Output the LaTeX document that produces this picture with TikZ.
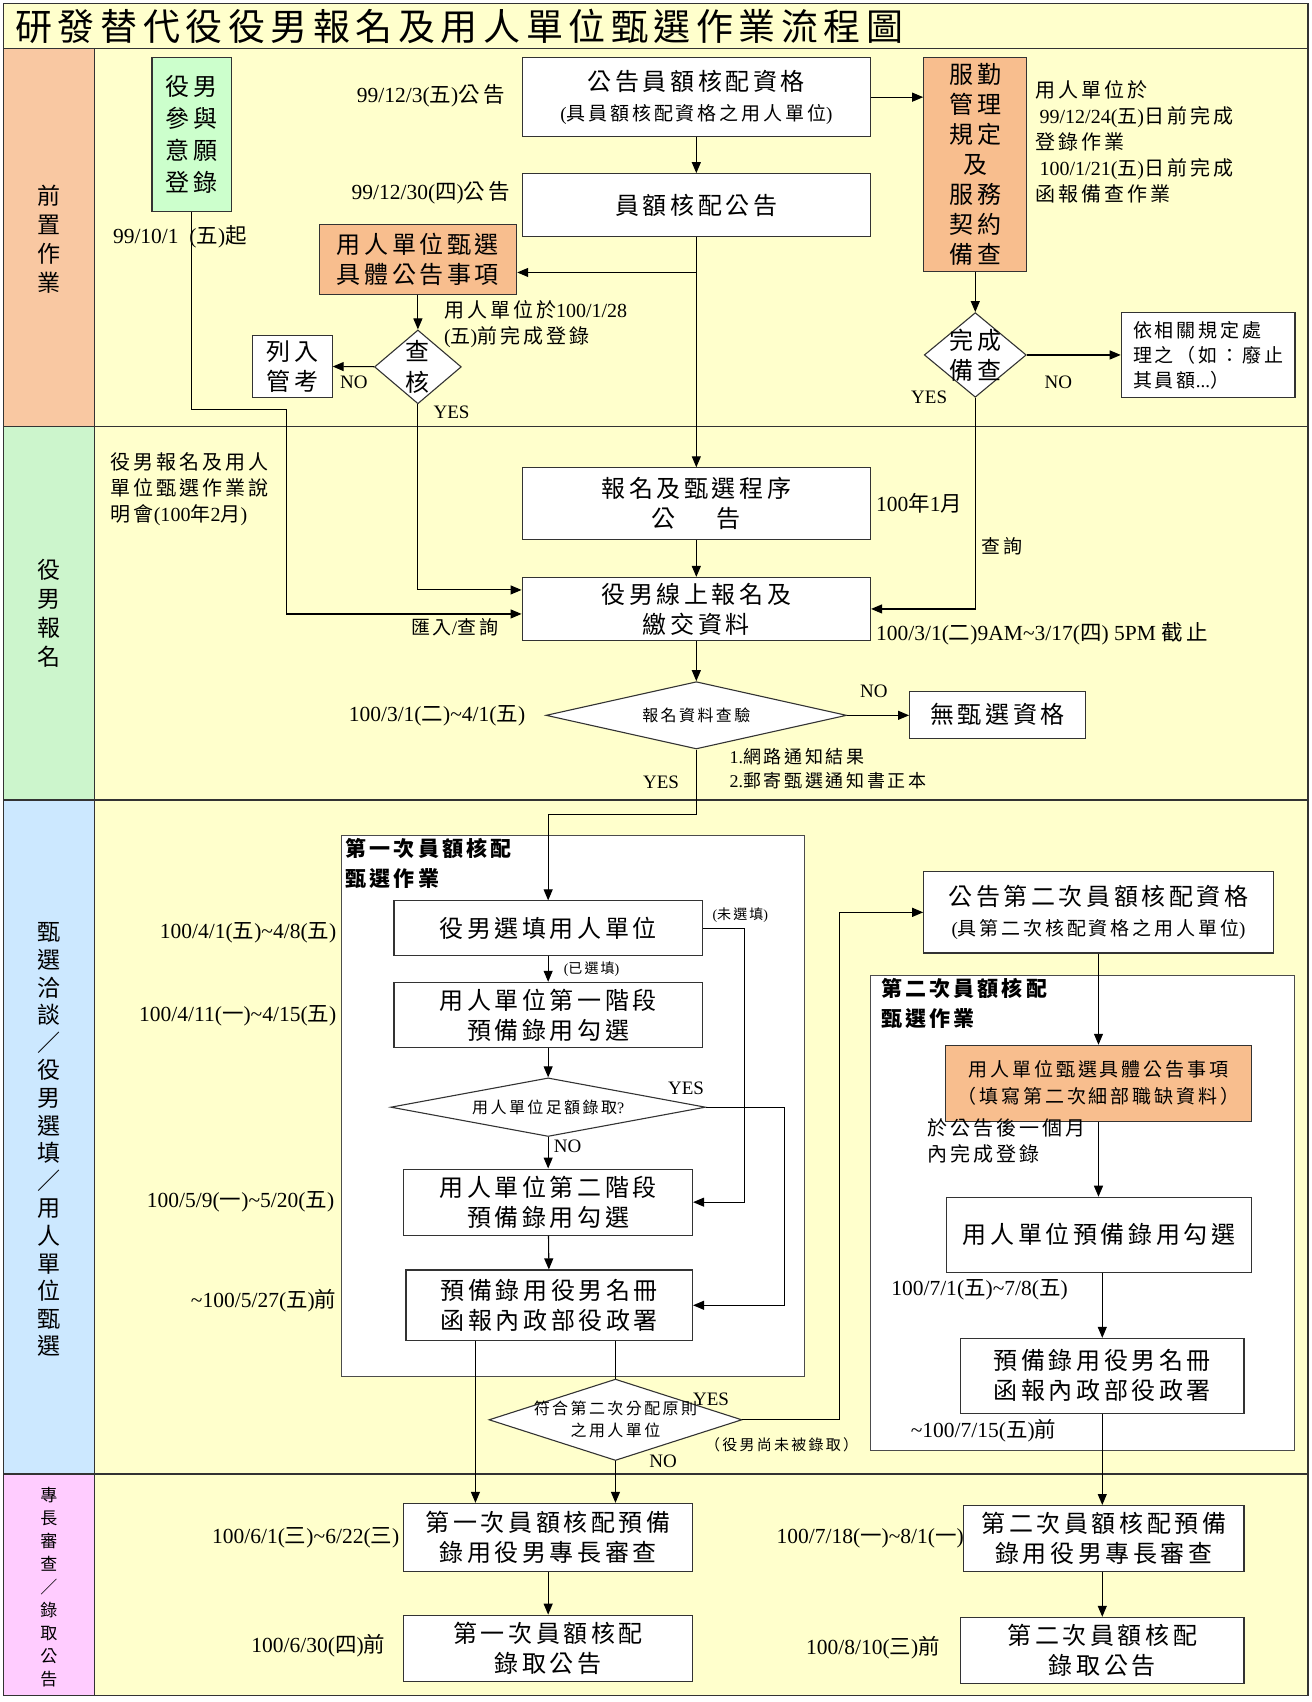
\documentclass[tikz,border=0pt]{standalone}
\usepackage{fontspec}
\usetikzlibrary{arrows.meta,shapes.geometric,positioning}
\setmainfont{Liberation Serif}
\newfontfamily\hei{Noto Sans CJK TC}[LetterSpace=15]
% Chinese characters switch to the CJK font by themselves
\XeTeXinterchartokenstate=1
\newXeTeXintercharclass\cjkclass
\newcount\cjkcode
\cjkcode="2E80
\loop \XeTeXcharclass\cjkcode=\cjkclass \advance\cjkcode by 1 \ifnum\cjkcode<"A000 \repeat
\cjkcode="FF00
\loop \XeTeXcharclass\cjkcode=\cjkclass \advance\cjkcode by 1 \ifnum\cjkcode<"FFF0 \repeat
\XeTeXinterchartoks 0 \cjkclass = {\hei}
\XeTeXinterchartoks 4095 \cjkclass = {\hei}
\XeTeXinterchartoks \cjkclass 0 = {\rmfamily}
\XeTeXinterchartoks 4095 0 = {\rmfamily}
\definecolor{paper}{HTML}{FFFFCC}
\definecolor{laneorange}{HTML}{F9C8A2}
\definecolor{lanegreen}{HTML}{CCF5CC}
\definecolor{laneblue}{HTML}{CCE8FF}
\definecolor{lanepink}{HTML}{FFCCFF}
\definecolor{boxorange}{HTML}{F8BE8E}
\definecolor{boxgreen}{HTML}{CCFFCC}

\begin{document}
\begin{tikzpicture}[x=1.0853pt, y=-1.0853pt,
  wh/.style 2 args={minimum width=#1*1.0853pt, minimum height=#2*1.0853pt},
  box/.style={draw=black!80, fill=white, line width=1.1pt, align=center, inner sep=1pt, font=\fontsize{24}{30}\selectfont},
  hot/.style={box, fill=boxorange},
  dia/.style={diamond, draw=black!80, fill=white, line width=1.1pt, inner sep=0pt},
  frame/.style={draw=black!70, fill=white, line width=1pt},
  note/.style={align=left, inner sep=1pt, font=\fontsize{21.5}{26}\selectfont},
  remark/.style={align=left, inner sep=1pt, font=\fontsize{20}{26}\selectfont},
  yn/.style={inner sep=1pt, font=\fontsize{19}{22}\selectfont},
  lane/.style={align=center, inner sep=0pt, font=\fontsize{23}{29}\selectfont},
  arr/.style={-{Triangle[length=11pt,width=9pt]}, line width=1.1pt}]
\useasboundingbox (0,0) rectangle (1208,1568);
% lanes
\fill[paper] (3,3) rectangle (1205,1562);
\fill[laneorange] (3,45) rectangle (87,393);
\fill[lanegreen] (3,393) rectangle (87,737);
\fill[laneblue] (3,737) rectangle (87,1358);
\fill[lanepink] (3,1358) rectangle (87,1562);
\draw[line width=1.3pt, black!80] (3,3) rectangle (1205,1562);
\draw[line width=1.3pt, black!80] (3,45) -- (1205,45) (3,393) -- (1205,393) (3,737) -- (1205,737) (3,1358) -- (1205,1358) (87,45) -- (87,1562);
\node (title) [anchor=west, inner sep=0pt, font=\fontsize{37}{40}\selectfont] at (14,24) {研發替代役役男報名及用人單位甄選作業流程圖};
\node (laneA) [lane] at (45,220) {前\\置\\作\\業};
\node (laneB) [lane] at (45,565) {役\\男\\報\\名};
\node (laneC) [lane, font=\fontsize{23}{27.6}\selectfont] at (45,1050) {甄\\選\\洽\\談\\／\\役\\男\\選\\填\\／\\用\\人\\單\\位\\甄\\選};
\node (laneD) [lane, font=\fontsize{17}{23}\selectfont] at (45,1462) {專\\長\\審\\查\\／\\錄\\取\\公\\告};

% containers
\node (roundA) [frame, wh={426}{498}] at (528,1019) {};
\node (roundB) [frame, wh={391}{437}] at (997.5,1117.5) {};
\node (roundAtitle) [remark, anchor=north west, font=\bfseries\fontsize{21}{30}\selectfont] at ([xshift=3pt,yshift=-2pt]roundA.north west) {第一次員額核配\\甄選作業};
\node (roundBtitle) [remark, anchor=north west, font=\bfseries\fontsize{21}{30}\selectfont] at ([xshift=10pt,yshift=-2pt]roundB.north west) {第二次員額核配\\甄選作業};

% boxes
\node (green) [box, fill=boxgreen, wh={73}{142}, font=\fontsize{24}{32}\selectfont] at (176.5,124) {役男\\參與\\意願\\登錄};
\node (ann1) [box, wh={321}{73}] at (641.5,89.5) {公告員額核配資格\\{\fontsize{19}{24}\selectfont (具員額核配資格之用人單位)}};
\node (quota) [box, wh={321}{58}] at (641.5,189) {員額核配公告};
\node (orange1) [hot, wh={182}{64}] at (385,239) {用人單位甄選\\具體公告事項};
\node (check) [dia, wh={80}{68}, label={[align=center, font=\fontsize{24}{31}\selectfont]center:{查\\核}}] at (385,338) {};
\node (listk) [box, wh={73}{57}] at (269.5,337.5) {列入\\管考};
\node (orange2) [hot, wh={95}{197}] at (898.5,151.5) {服勤\\管理\\規定\\及\\服務\\契約\\備查};
\node (done) [dia, wh={94}{78}, label={[align=center, font=\fontsize{24}{30}\selectfont]center:{完成\\備查}}] at (898.5,327) {};
\node (handle) [box, wh={160}{78}, align=left, font=\fontsize{19}{25}\selectfont] at (1113,327) {依相關規定處\\理之（如：廢止\\其員額...）};
\node (proc) [box, wh={321}{66}] at (641.5,464) {報名及甄選程序\\公\hspace{1.7em}告};
\node (online) [box, wh={321}{58}] at (641.5,561) {役男線上報名及\\繳交資料};
\node (verify) [dia, wh={277}{62}, label={[font=\fontsize{16}{20}\selectfont]center:報名資料查驗}] at (641.5,659) {};
\node (none) [box, wh={162}{43}] at (919,658.5) {無甄選資格};
\node (pick) [box, wh={284}{50}] at (505,855) {役男選填用人單位};
\node (stage1) [box, wh={284}{60}] at (505,935) {用人單位第一階段\\預備錄用勾選};
\node (enough) [dia, wh={290}{54}, label={[font=\fontsize{16}{20}\selectfont]center:用人單位足額錄取?}] at (505,1020) {};
\node (stage2) [box, wh={266}{61}] at (505,1107.5) {用人單位第二階段\\預備錄用勾選};
\node (list1) [box, wh={264}{65}] at (506,1202.5) {預備錄用役男名冊\\函報內政部役政署};
\node (rule) [dia, wh={233}{75}, label={[align=center, font=\fontsize{16}{22}\selectfont]center:{符合第二次分配原則\\之用人單位}}] at (567,1308) {};
\node (ann2) [box, wh={322}{75}] at (1012,840.5) {公告第二次員額核配資格\\{\fontsize{19}{24}\selectfont (具第二次核配資格之用人單位)}};
\node (orange3) [hot, wh={282}{70}, font=\fontsize{19}{27}\selectfont] at (1012,998) {用人單位甄選具體公告事項\\（填寫第二次細部職缺資料）};
\node (pick2) [box, wh={281}{69}] at (1012.5,1137.5) {用人單位預備錄用勾選};
\node (list2) [box, wh={261}{69}] at (1015.5,1267.5) {預備錄用役男名冊\\函報內政部役政署};
\node (exam1) [box, wh={266}{63}] at (505,1416.5) {第一次員額核配預備\\錄用役男專長審查};
\node (result1) [box, wh={266}{61}] at (505,1518.5) {第一次員額核配\\錄取公告};
\node (exam2) [box, wh={258}{61}] at (1017,1417.5) {第二次員額核配預備\\錄用役男專長審查};
\node (result2) [box, wh={261}{61}] at (1015.5,1520.5) {第二次員額核配\\錄取公告};

% labels
\node (dateGreen) [note, anchor=west] at (103,218) {99/10/1\ \ (五)起};
\node (dateAnn) [note, anchor=east] at (466,88) {99/12/3(五)公告};
\node (dateQuota) [note, anchor=east] at (471,178) {99/12/30(四)公告};
\node (dueCheck) [remark, anchor=west] at (408,299) {用人單位於100/1/28\\(五)前完成登錄};
\node (dueDone) [remark, anchor=west] at (953,131) {用人單位於\\\hspace*{4pt}99/12/24(五)日前完成\\登錄作業\\\hspace*{4pt}100/1/21(五)日前完成\\函報備查作業};
\node (expo) [remark, anchor=west] at (101,451) {役男報名及用人\\單位甄選作業說\\明會(100年2月)};
\node (dateProc) [note, anchor=west] at (806,464) {100年1月};
\node (importLbl) [note, anchor=east, font=\fontsize{19}{24}\selectfont] at (460,578) {匯入/查詢};
\node (queryLbl) [note, anchor=west, font=\fontsize{19}{24}\selectfont] at (903,503) {查詢};
\node (dateOnline) [note, anchor=west] at (806,584) {100/3/1(二)9AM\textasciitilde 3/17(四) 5PM 截止};
\node (dateVerify) [note, anchor=east] at (485,659) {100/3/1(二)\textasciitilde 4/1(五)};
\node (notice) [remark, anchor=west, font=\fontsize{18}{24}\selectfont] at (671,708) {1.網路通知結果\\2.郵寄甄選通知書正本};
\node (date1) [note, anchor=east] at (311,859) {100/4/1(五)\textasciitilde 4/8(五)};
\node (date2) [note, anchor=east] at (311,936) {100/4/11(一)\textasciitilde 4/15(五)};
\node (date3) [note, anchor=east] at (309,1107) {100/5/9(一)\textasciitilde 5/20(五)};
\node (date4) [note, anchor=east] at (311,1198) {\textasciitilde 100/5/27(五)前};
\node (skipLbl) [remark, font=\fontsize{14}{16}\selectfont] at (682,843) {(未選填)};
\node (pickedLbl) [remark, font=\fontsize{14}{16}\selectfont] at (545,893) {(已選填)};
\node (notYetLbl) [remark, font=\fontsize{15}{16}\selectfont] at (720,1331) {（役男尚未被錄取）};
\node (dueOrange) [remark, anchor=west] at (853,1051) {於公告後一個月\\內完成登錄};
\node (date5) [note, anchor=west] at (820,1188) {100/7/1(五)\textasciitilde 7/8(五)};
\node (date6) [note, anchor=west] at (838,1318) {\textasciitilde 100/7/15(五)前};
\node (date7) [note, anchor=east] at (369,1417) {100/6/1(三)\textasciitilde 6/22(三)};
\node (date8) [note, anchor=east] at (356,1516) {100/6/30(四)前};
\node (date9) [note, anchor=east] at (889,1417) {100/7/18(一)\textasciitilde 8/1(一)};
\node (date10) [note, anchor=east] at (867,1518) {100/8/10(三)前};
\node (noCheck) [yn] at (326,352) {NO};
\node (yesCheck) [yn] at (416,380) {YES};
\node (noDone) [yn] at (975,352) {NO};
\node (yesDone) [yn] at (856,366) {YES};
\node (noVerify) [yn] at (805,637) {NO};
\node (yesVerify) [yn] at (609,721) {YES};
\node (yesEnough) [yn] at (632,1003) {YES};
\node (noEnough) [yn] at (523,1056) {NO};
\node (yesRule) [yn] at (655,1289) {YES};
\node (noRule) [yn] at (611,1346) {NO};

% connectors
\coordinate (greenTurn) at (264,377);
\coordinate (qsplit) at (641.5,251);
\coordinate (yesTurn) at (505,750);
\coordinate (drop1) at (438,1235);
\draw[arr] (green.south) |- (greenTurn) |- ([yshift=-5pt]online.west);
\draw[arr] (ann1) -- (quota);
\draw[arr] (quota) -- (proc);
\draw[arr] (qsplit) -- (qsplit -| orange1.east);
\draw[arr] (orange1) -- (check);
\draw[arr] (check) -- (listk);
\draw[arr] (check.south) |- ([yshift=19pt]online.west);
\draw[arr] (ann1.east) -- (ann1.east -| orange2.west);
\draw[arr] (orange2) -- (done);
\draw[arr] (done.east) -- (done.east -| handle.west);
\draw[arr] (done.south) |- (online.east);
\draw[arr] (proc) -- (online);
\draw[arr] (online) -- (verify);
\draw[arr] (verify.east) -- (verify.east -| none.west);
\draw[arr] (verify.south) |- (yesTurn) -- (pick.north);
\draw[arr] (pick) -- (stage1);
\draw[arr] (pick.east) -- ++(38,0) |- (stage2.east);
\draw[arr] (stage1) -- (enough);
\draw[arr] (enough.east) -- ++(72,0) |- (list1.east);
\draw[arr] (enough) -- (stage2);
\draw[arr] (stage2) -- (list1);
\draw[arr] (drop1) -- (drop1 |- exam1.north);
\draw[line width=1.1pt] (list1.south -| rule.north) -- (rule.north);
\draw[arr] (rule.south) -- (rule.south |- exam1.north);
\draw[arr] (rule.east) -- ++(89,0) |- (ann2.west);
\draw[arr] (ann2.south) -- (ann2.south |- orange3.north);
\draw[arr] (orange3.south) -- (orange3.south |- pick2.north);
\draw[arr] (list2.north |- pick2.south) -- (list2.north);
\draw[arr] (list2.south) -- (list2.south |- exam2.north);
\draw[arr] (exam1) -- (result1);
\draw[arr] (exam2.south -| result2.north) -- (result2.north);
\end{tikzpicture}
\end{document}
